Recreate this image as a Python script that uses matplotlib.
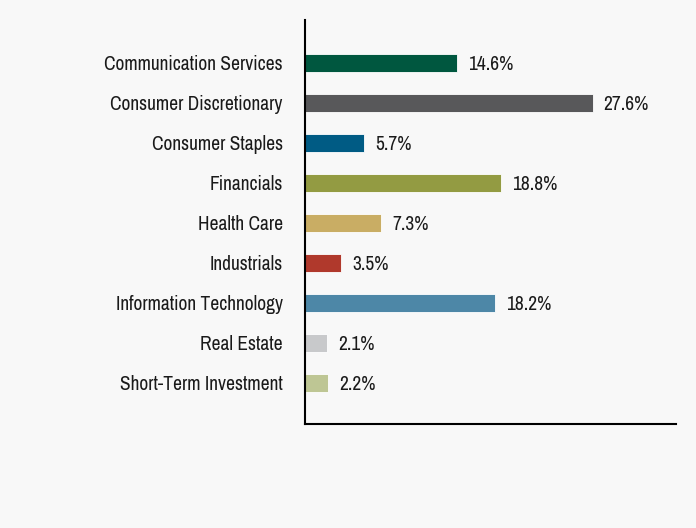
import matplotlib.pyplot as plt
from matplotlib import font_manager

sectors = ['Communication Services', 'Consumer Discretionary', 'Consumer Staples',
           'Financials', 'Health Care', 'Industrials', 'Information Technology',
           'Real Estate', 'Short-Term Investment']
values = [14.6, 27.6, 5.7, 18.8, 7.3, 3.5, 18.2, 2.1, 2.2]
colors = ['#00573f', '#58585a', '#005b84', '#939b42', '#c9ad64', '#b0392c',
          '#4d87a7', '#c8c9cb', '#bec694']

# look for a condensed face, the reference uses a narrow font
fonts = font_manager.fontManager.ttflist
narrow = [f for f in fonts if 'Narrow' in f.name or 'Condensed' in f.name]
cond = [f for f in fonts if str(f.stretch) in ('condensed', 'semi-condensed', '600', '700')
        and f.weight in ('normal', 400, 'regular')]
font_kw = {}
if narrow:
    fam = narrow[0].name
    size = 14
elif cond:
    fam = cond[0].name
    font_kw = {'fontstretch': 'condensed'}
    size = 14
else:
    fam = 'DejaVu Sans'
    size = 12.5
plt.rcParams['font.family'] = [fam, 'DejaVu Sans']

bg = '#f8f8f8'
fig = plt.figure(figsize=(6.96, 5.28), dpi=100, facecolor=bg)
ax = fig.add_axes([305 / 696, 1 - 424 / 528, (676 - 305) / 696, (424 - 20) / 528])
ax.set_facecolor(bg)

y = list(range(len(sectors)))
ax.barh(y, values, height=0.45, color=colors, edgecolor='white', linewidth=0.6)
for yi, v in zip(y, values):
    ax.text(v + 1.05, yi + 0.03, f'{v}%', va='center', ha='left', fontsize=size,
            color='#1a1a1a', **font_kw)

ax.set_xlim(0, 35.6)
ax.set_ylim(len(sectors) - 1 + 1.025, -1.075)
ax.set_yticks(y)
ax.set_yticklabels(sectors, fontsize=size, color='#1a1a1a', **font_kw)
ax.tick_params(axis='y', length=0, pad=16)
ax.set_xticks([])
for s in ['top', 'right']:
    ax.spines[s].set_visible(False)
for s in ['left', 'bottom']:
    ax.spines[s].set_linewidth(1.5)
    ax.spines[s].set_color('black')

fig.savefig('out.png', dpi=100, facecolor=bg)
